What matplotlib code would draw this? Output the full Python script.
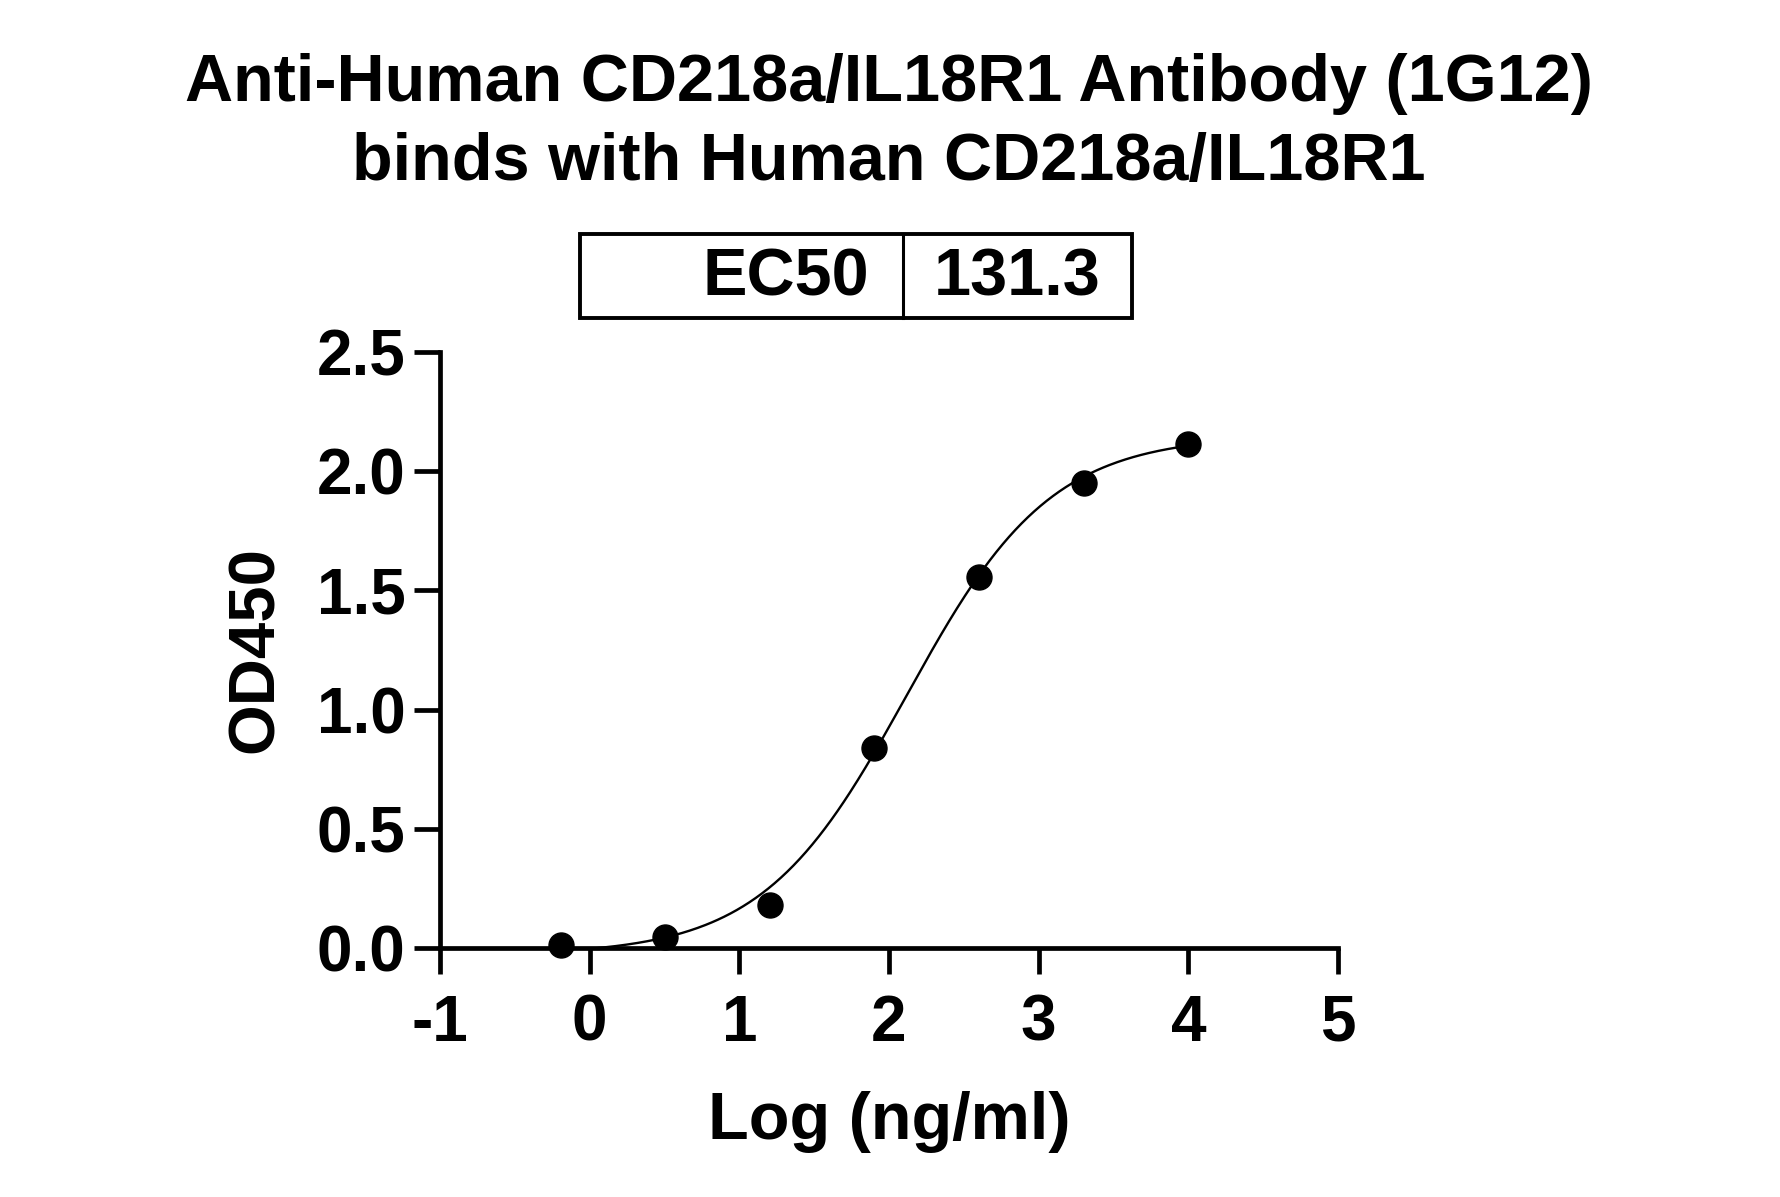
import numpy as np
import matplotlib
matplotlib.use("Agg")
import matplotlib.pyplot as plt
from matplotlib.patches import Rectangle
from matplotlib.lines import Line2D

# Data
log_conc = [-0.194, 0.505, 1.204, 1.903, 2.602, 3.301, 4.0]
od450 = [0.014, 0.048, 0.181, 0.838, 1.557, 1.952, 2.114]
ec50 = 131.3
fit_bottom = -0.03
fit_top = 2.15
fit_hill = 0.9
x_ticks = [-1, 0, 1, 2, 3, 4, 5]
y_ticks = [0.0, 0.5, 1.0, 1.5, 2.0, 2.5]
title_lines = ["Anti-Human CD218a/IL18R1 Antibody (1G12)", "binds with Human CD218a/IL18R1"]

W, H = 1781, 1197
plt.rcParams['font.family'] = ['Liberation Sans', 'DejaVu Sans']
plt.rcParams['font.weight'] = 'bold'
fig = plt.figure(figsize=(W / 100, H / 100), dpi=100)

ax_l, ax_r, ax_b, ax_t = 440, 1338, 948, 352
ax = fig.add_axes([ax_l / W, 1 - ax_b / H, (ax_r - ax_l) / W, (ax_b - ax_t) / H])

# fitted curve
xs = np.linspace(log_conc[0], log_conc[-1], 400)
logec = np.log10(ec50)
ys = fit_bottom + (fit_top - fit_bottom) / (1 + 10 ** ((logec - xs) * fit_hill))
ax.plot(xs, ys, color='black', lw=1.7, clip_on=True, zorder=2)
ax.plot(log_conc, od450, 'o', color='black', markersize=18, clip_on=False, zorder=3)

ax.set_xlim(-1, 5)
ax.set_ylim(0, 2.5)
ax.set_xticks(x_ticks)
ax.set_xticklabels([str(t) for t in x_ticks])
ax.set_yticks(y_ticks)
ax.set_yticklabels([f"{t:.1f}" for t in y_ticks])
for s in ['top', 'right']:
    ax.spines[s].set_visible(False)
for s in ['left', 'bottom']:
    ax.spines[s].set_linewidth(3.4)
ax.tick_params(axis='both', width=3.4, length=19, labelsize=46, direction='out')
ax.tick_params(axis='y', pad=6)
ax.tick_params(axis='x', pad=14)
for lab in ax.get_xticklabels() + ax.get_yticklabels():
    lab.set_fontweight('bold')

ax.set_ylabel("OD450", fontsize=47, fontweight='bold')
ax.yaxis.set_label_coords((256 - ax_l) / (ax_r - ax_l), 0.5)
ax.yaxis.label.set_va('center')
ax.set_xlabel("Log (ng/ml)", fontsize=48, fontweight='bold')
ax.xaxis.set_label_coords(0.5, (ax_b - 1122) / (ax_b - ax_t))
ax.xaxis.label.set_va('center')

# title
fig.text(889 / W, 1 - 84 / H, title_lines[0], ha='center', va='center', fontsize=48, fontweight='bold')
fig.text(889 / W, 1 - 163 / H, title_lines[1], ha='center', va='center', fontsize=48, fontweight='bold')

# EC50 box
bx0, bx1, by0, by1, bdiv = 580, 1132, 234, 318, 903
fig.patches.append(Rectangle((bx0 / W, 1 - by1 / H), (bx1 - bx0) / W, (by1 - by0) / H,
                             transform=fig.transFigure, fill=False, lw=2.8, edgecolor='black'))
fig.lines.append(Line2D([bdiv / W, bdiv / W], [1 - by1 / H, 1 - by0 / H],
                        transform=fig.transFigure, color='black', lw=2.2))
fig.text(869 / W, 1 - 279 / H, "EC50", ha='right', va='center', fontsize=48, fontweight='bold')
fig.text(934 / W, 1 - 279 / H, f"{ec50}", ha='left', va='center', fontsize=48, fontweight='bold')

fig.savefig("out.png", dpi=100, facecolor='white')
